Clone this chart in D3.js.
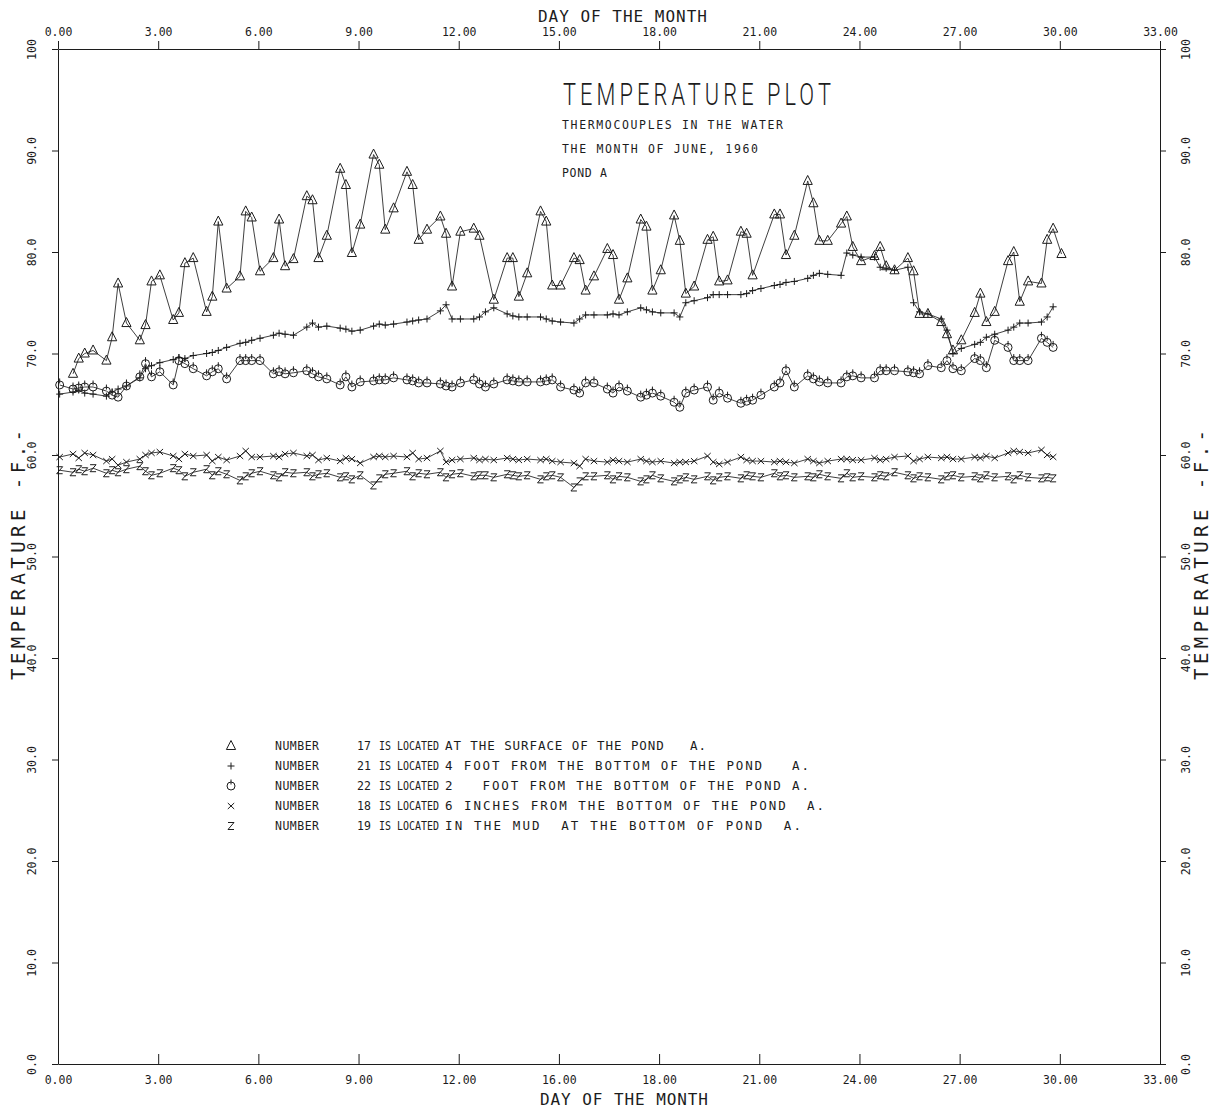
<!DOCTYPE html>
<html>
<head>
<meta charset="utf-8">
<style>
  body { margin: 0; background: #fff; }
  svg { display: block; }
  text {
    font-family: "DejaVu Sans Mono", "Liberation Mono", monospace;
    fill: #1c1c1c;
  }
  .axis path, .axis line { stroke: #1c1c1c; stroke-width: 1; }
  .axis text { font-size: 11.5px; fill: #1c1c1c; }
  .series { fill: none; stroke: #2a2a2a; stroke-width: 0.9; }
  .mark { fill: none; stroke: #1c1c1c; stroke-width: 1; }
  .thin { font-family: Roboto, Lato, "Open Sans", sans-serif; font-weight: 300; }
</style>
</head>
<body>
<script src="https://cdn.jsdelivr.net/npm/d3@7"></script>
<script>

// ticks
var dayTicks = [0, 3, 6, 9, 12, 15, 18, 21, 24, 27, 30, 33];
var topDayLabels = ["0.00", "3.00", "6.00", "9.00", "12.00", "15.00", "18.00", "21.00", "24.00", "27.00", "30.00", "33.00"];
var bottomDayLabels = ["0.00", "3.00", "6.00", "9.00", "12.00", "16.00", "18.00", "21.00", "24.00", "27.00", "30.00", "33.00"];
var tempTicks = [0, 10, 20, 30, 40, 50, 60, 70, 80, 90, 100];
var tempLabels = ["0.0", "10.0", "20.0", "30.0", "40.0", "50.0", "60.0", "70.0", "80.0", "90.0", "100"];

// hours of the day the readings were taken
var readingHours = [1.2, 10.8, 14.9, 19.2];

// thermocouple 17 - surface (one row per day of june)
var surface = [
  [null, 68.0, 69.5, 70.0], [70.3, 69.3, 71.6, 76.9], [73.0, 71.3, 72.8, 77.1],
  [77.7, 73.3, 74.0, 78.9], [79.4, 74.1, 75.6, 83.0], [76.4, 77.6, 84.0, 83.4],
  [78.1, 79.4, 83.2, 78.6], [79.3, 85.5, 85.1, 79.4], [81.6, 88.2, 86.6, 79.9],
  [82.7, 89.6, 88.6, 82.2], [84.3, 87.9, 86.6, 81.2], [82.2, 83.5, 81.8, 76.6],
  [82.0, 82.3, 81.6, null], [75.3, 79.4, 79.4, 75.6], [77.9, 84.0, 83.0, 76.7],
  [76.7, 79.4, 79.2, 76.2], [77.6, 80.3, 79.7, 75.3], [77.4, 83.2, 82.5, 76.2],
  [78.2, 83.6, 81.1, 75.9], [76.6, 81.2, 81.5, 77.1], [77.2, 82.0, 81.8, 77.7],
  [null, 83.7, 83.7, 79.7], [81.6, 87.0, 84.8, 81.1], [81.1, 82.8, 83.5, 80.5],
  [79.1, 79.6, 80.5, 78.6], [78.2, 79.4, 78.1, 73.9], [73.9, 73.1, 71.9, 70.3],
  [71.3, 74.0, 75.9, 73.1], [74.1, 79.1, 80.0, 75.1], [77.1, 76.9, 81.2, 82.3],
  [79.8]
];

// thermocouple 21 - 4 foot from the bottom
var fourFoot = [
  [66.0, 66.2, 66.4, 66.1], [66.0, 65.8, 66.2, 66.5], [66.8, 67.6, 68.5, 68.8],
  [69.1, 69.4, 69.6, 69.5], [69.8, 70.0, 70.1, 70.3], [70.6, 71.0, 71.1, 71.3],
  [71.5, 71.8, 72.0, 71.9], [71.8, 72.6, 73.0, 72.6], [72.7, 72.5, 72.4, 72.2],
  [72.3, 72.7, 72.9, 72.8], [72.9, 73.1, 73.2, 73.3], [73.4, 74.2, 74.8, 73.4],
  [73.4, 73.4, 73.6, 74.1], [74.5, 73.9, 73.7, 73.6], [73.6, 73.6, 73.4, 73.2],
  [73.1, 73.0, 73.4, 73.8], [73.8, 73.8, 73.9, 73.8], [74.1, 74.5, 74.3, 74.1],
  [74.0, 74.0, 73.6, 75.0], [75.2, 75.5, 75.8, 75.8], [75.8, 75.8, 75.9, 76.2],
  [76.4, 76.7, 76.8, 77.0], [77.1, 77.4, 77.7, 77.9], [77.8, 77.7, 79.9, 79.7],
  [79.5, 79.5, 78.5, 78.4], [78.2, 78.5, 75.0, 74.1], [73.9, 73.4, 72.3, 70.0],
  [70.5, 70.9, 71.1, 71.6], [71.9, 72.3, 72.6, 73.0], [73.0, 73.1, 73.6, 74.6]
];

// thermocouple 22 - 2 foot from the bottom
var twoFoot = [
  [66.9, 66.5, 66.6, 66.7], [66.7, 66.3, 65.9, 65.7], [66.8, 67.7, 69.0, 67.7],
  [68.2, 66.9, 69.3, 69.0], [68.5, 67.8, 68.2, 68.5], [67.5, 69.3, 69.3, 69.3],
  [69.3, 68.0, 68.2, 68.0], [68.1, 68.3, 68.0, 67.7], [67.5, 66.9, 67.7, 66.7],
  [67.2, 67.3, 67.4, 67.4], [67.6, 67.4, 67.3, 67.1], [67.1, 67.0, 66.8, 66.7],
  [67.1, 67.4, 67.0, 66.7], [67.0, 67.4, 67.3, 67.2], [67.2, 67.2, 67.3, 67.4],
  [66.7, 66.4, 66.1, 67.1], [67.1, 66.5, 66.1, 66.7], [66.3, 65.7, 65.9, 66.1],
  [65.8, 65.2, 64.7, 66.1], [66.4, 66.7, 65.4, 66.1], [65.6, 65.1, 65.3, 65.4],
  [65.9, 66.7, 67.1, 68.3], [66.7, 67.8, 67.5, 67.2], [67.1, 67.1, 67.7, 67.8],
  [67.6, 67.6, 68.3, 68.3], [68.3, 68.2, 68.1, 68.0], [68.8, 68.6, 69.3, 68.5],
  [68.3, 69.5, 69.3, 68.6], [71.3, 70.6, 69.3, 69.3], [69.3, 71.5, 71.1, 70.6]
];

// thermocouple 18 - 6 inches from the bottom
var sixInch = [
  [59.8, 60.1, 59.7, 60.2], [60.0, 59.4, 59.6, 59.0], [59.3, 59.6, 60.0, 60.2],
  [60.3, 59.9, 59.6, 60.1], [59.9, 60.0, 59.4, 59.8], [59.5, 59.9, 60.4, 59.8],
  [59.8, 59.9, 59.8, 60.1], [60.2, 59.9, 60.0, 59.5], [59.7, 59.4, 59.7, 59.6],
  [59.2, 59.8, 59.9, 59.8], [59.9, 59.8, 60.2, 59.6], [59.7, 60.4, 59.3, 59.5],
  [59.6, 59.7, 59.5, 59.6], [59.5, 59.7, 59.6, 59.5], [59.6, 59.5, 59.6, 59.4],
  [59.3, 59.2, 58.9, 59.6], [59.4, 59.3, 59.5, 59.4], [59.3, 59.6, 59.4, 59.3],
  [59.4, 59.2, 59.3, 59.3], [59.4, 59.9, 59.3, 59.1], [59.3, 59.8, 59.5, 59.4],
  [59.4, 59.3, 59.4, 59.3], [59.2, 59.6, 59.4, 59.2], [59.4, 59.6, 59.6, 59.5],
  [59.5, 59.7, 59.5, 59.6], [59.8, 59.9, 59.4, 59.6], [59.8, 59.7, 59.8, 59.6],
  [59.6, 59.8, 59.7, 59.9], [59.7, 60.2, 60.4, 60.3], [60.2, 60.5, 60.0, 59.8]
];

// thermocouple 19 - in the mud
var mud = [
  [58.5, 58.3, 58.6, 58.4], [58.7, 58.2, 58.5, 58.3], [58.6, 58.9, 58.4, 58.0],
  [58.2, 58.7, 58.5, 57.9], [58.3, 58.6, 58.0, 58.4], [58.1, 57.5, 57.9, 58.2],
  [58.4, 58.0, 57.8, 58.3], [58.2, 58.3, 57.9, 58.1], [58.2, 57.8, 57.9, 57.6],
  [58.0, 57.0, 57.7, 58.1], [58.2, 58.4, 57.9, 58.2], [58.1, 58.3, 57.8, 58.1],
  [58.2, 57.9, 58.0, 58.0], [57.8, 58.1, 58.0, 57.9], [58.0, 57.6, 57.9, 58.0],
  [57.8, 56.8, 57.4, 57.9], [57.9, 58.0, 57.6, 57.9], [57.8, 57.4, 57.6, 58.0],
  [57.7, 57.4, 57.6, 57.8], [57.6, 57.9, 57.5, 57.8], [57.9, 57.7, 58.0, 57.9],
  [57.8, 58.2, 57.9, 58.0], [57.8, 57.9, 57.8, 58.1], [57.9, 57.7, 58.2, 57.8],
  [57.9, 57.8, 58.0, 57.9], [58.3, 58.0, 57.7, 57.9], [57.8, 57.6, 57.9, 58.0],
  [57.8, 57.9, 57.7, 58.0], [57.8, 57.9, 57.6, 58.0], [57.8, 57.7, 57.8, 57.7]
];

// legend
var legendNumbers = ["17", "21", "22", "18", "19"];
var legendPlaces = [
  "AT THE SURFACE OF THE POND   A.",
  "4 FOOT FROM THE BOTTOM OF THE POND   A.",
  "2   FOOT FROM THE BOTTOM OF THE POND A.",
  "6 INCHES FROM THE BOTTOM OF THE POND  A.",
  "IN THE MUD  AT THE BOTTOM OF POND  A."
];
var legendPlaceWidths = [261, 364, 364, 379, 356];

var subtitles = ["THERMOCOUPLES IN THE WATER", "THE MONTH OF JUNE, 1960", "POND A"];
var subtitleWidths = [221, 196, 45];

// marker shapes
var markers = {
  triangle: "M0,-5.5L4.6,3.5L-4.6,3.5Z",
  plus: "M-3.5,0H3.5M0,-3.5V3.5",
  circle: "M4,0A4,4 0 1,1 -4,0A4,4 0 1,1 4,0M0,-6.5V-1.5",
  cross: "M-3.2,-3L3.2,3M-3.2,3L3.2,-3",
  zed: "M-3,-3.5H3L-3,3.5H3"
};

var series = [
  {rows: surface, mark: "triangle"},
  {rows: fourFoot, mark: "plus"},
  {rows: twoFoot, mark: "circle"},
  {rows: sixInch, mark: "cross"},
  {rows: mud, mark: "zed"}
];

function toPoints(rows) {
  var pts = [];
  rows.forEach(function(row, d) {
    row.forEach(function(v, i) {
      if (v !== null) pts.push({day: d + readingHours[i] / 24, temp: v});
    });
  });
  return pts;
}

var width = 1216,
    height = 1111;

var svg = d3.select("body").append("svg")
    .attr("width", width)
    .attr("height", height);

var x = d3.scaleLinear().domain([0, 33]).range([58, 1160]);
var y = d3.scaleLinear().domain([0, 100]).range([1064, 49]);

// axes
var topAxis = svg.append("g").attr("class", "axis")
    .attr("transform", "translate(0," + y(100) + ")")
    .call(d3.axisTop(x).tickValues(dayTicks).tickSize(8).tickSizeOuter(0)
      .tickFormat(function(d, i) { return topDayLabels[i]; }));
topAxis.selectAll("text").attr("y", -13);

var bottomAxis = svg.append("g").attr("class", "axis")
    .attr("transform", "translate(0," + y(0) + ")")
    .call(d3.axisBottom(x).tickValues(dayTicks).tickSize(-10).tickSizeOuter(0)
      .tickFormat(function(d, i) { return bottomDayLabels[i]; }));
bottomAxis.selectAll("text").attr("y", 12);

var leftAxis = svg.append("g").attr("class", "axis")
    .attr("transform", "translate(" + x(0) + ",0)")
    .call(d3.axisLeft(y).tickValues(tempTicks).tickSize(6).tickSizeOuter(0)
      .tickFormat(function(d, i) { return tempLabels[i]; }));
leftAxis.selectAll("text")
    .attr("x", 0).attr("dy", 0)
    .attr("text-anchor", "middle")
    .attr("transform", "translate(-22,0) rotate(-90)");

var rightAxis = svg.append("g").attr("class", "axis")
    .attr("transform", "translate(" + x(33) + ",0)")
    .call(d3.axisRight(y).tickValues(tempTicks).tickSize(6).tickSizeOuter(0)
      .tickFormat(function(d, i) { return tempLabels[i]; }));
rightAxis.selectAll("text")
    .attr("x", 0).attr("dy", 0)
    .attr("text-anchor", "middle")
    .attr("transform", "translate(30,0) rotate(-90)");

// axis titles
svg.append("text")
    .attr("x", 538).attr("y", 22)
    .attr("textLength", 169)
    .style("font-size", "16px")
    .text("DAY OF THE MONTH");

svg.append("text")
    .attr("x", 540).attr("y", 1105)
    .attr("textLength", 168)
    .style("font-size", "16px")
    .text("DAY OF THE MONTH");

svg.append("text")
    .attr("transform", "translate(25,680) rotate(-90)")
    .attr("textLength", 250)
    .style("font-size", "19px")
    .text("TEMPERATURE -F.-");

svg.append("text")
    .attr("transform", "translate(1208,680) rotate(-90)")
    .attr("textLength", 250)
    .style("font-size", "19px")
    .text("TEMPERATURE -F.-");

// title block
svg.append("text")
    .attr("class", "thin")
    .attr("x", 563).attr("y", 105)
    .attr("textLength", 272)
    .attr("lengthAdjust", "spacingAndGlyphs")
    .style("font-size", "32px")
    .style("letter-spacing", "6px")
    .text("TEMPERATURE PLOT");

svg.selectAll(".subtitle")
    .data(subtitles)
    .enter()
    .append("text")
    .attr("class", "subtitle")
    .attr("x", 562)
    .attr("y", function(d, i) { return 129 + i * 24; })
    .attr("textLength", function(d, i) { return subtitleWidths[i]; })
    .style("font-size", "11.5px")
    .text(function(d) { return d; });

// series
var line = d3.line()
    .x(function(d) { return x(d.day); })
    .y(function(d) { return y(d.temp); });

series.forEach(function(s) {
  var pts = toPoints(s.rows);
  svg.append("path")
      .datum(pts)
      .attr("class", "series")
      .attr("d", line);
  svg.append("g").selectAll("path")
      .data(pts)
      .enter()
      .append("path")
      .attr("class", "mark")
      .attr("d", markers[s.mark])
      .attr("transform", function(d) { return "translate(" + x(d.day) + "," + y(d.temp) + ")"; });
});

// legend
var legend = svg.append("g");
var rows = legend.selectAll("g")
    .data(legendNumbers)
    .enter()
    .append("g")
    .attr("transform", function(d, i) { return "translate(0," + (746 + i * 20) + ")"; });

rows.append("path")
    .attr("class", "mark")
    .attr("d", function(d, i) { return markers[series[i].mark]; })
    .attr("transform", "translate(231,0)");

rows.append("text")
    .attr("x", 275).attr("y", 4)
    .attr("textLength", 44)
    .style("font-size", "11.5px")
    .text("NUMBER");

rows.append("text")
    .attr("x", 357).attr("y", 4)
    .style("font-size", "11.5px")
    .text(function(d) { return d; });

rows.append("text")
    .attr("x", 379).attr("y", 4)
    .attr("textLength", 60)
    .attr("lengthAdjust", "spacingAndGlyphs")
    .style("font-size", "11.5px")
    .text("IS LOCATED");

rows.append("text")
    .attr("x", 445).attr("y", 4)
    .attr("textLength", function(d, i) { return legendPlaceWidths[i]; })
    .style("font-size", "12.5px")
    .style("white-space", "pre")
    .text(function(d, i) { return legendPlaces[i]; });

</script>
</body>
</html>
